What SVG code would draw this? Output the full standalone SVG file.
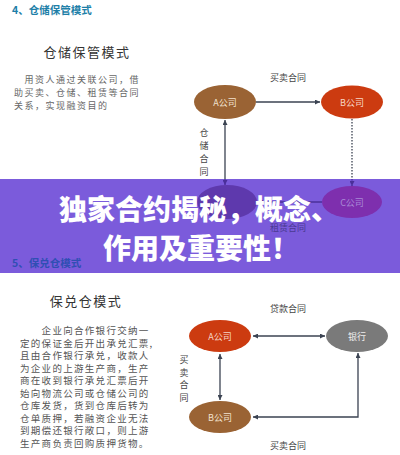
<svg xmlns="http://www.w3.org/2000/svg" width="400" height="455" viewBox="0 0 400 455">
<defs>
<marker id="arr" viewBox="0 0 6 6" refX="6" refY="3" markerWidth="5" markerHeight="5" orient="auto-start-reverse" markerUnits="userSpaceOnUse">
<path d="M0,0 L6,3 L0,6 z" fill="#3b4352"/>
</marker>
<marker id="arrp" viewBox="0 0 6 6" refX="6" refY="3" markerWidth="5" markerHeight="5" orient="auto-start-reverse" markerUnits="userSpaceOnUse">
<path d="M0,0 L6,3 L0,6 z" fill="#4a2f9a"/>
</marker>
<style>
text{font-family:"Noto Sans CJK SC","Noto Sans",sans-serif;}
.hdr{font-size:10.5px;font-weight:bold;}
.ttl{font-size:13px;fill:#333;letter-spacing:1.5px;text-anchor:middle;}
.para{font-size:9px;fill:#666;letter-spacing:1.5px;}
.para2{font-size:9.5px;fill:#555;letter-spacing:1.3px;}
.lbl{font-size:9px;fill:#444;text-anchor:middle;}
.nl{font-size:9px;text-anchor:middle;dominant-baseline:central;}
.ln{stroke:#3b4352;stroke-width:1.3;fill:none;}
.lnp{stroke:#4a2f9a;stroke-width:1.3;fill:none;}
.big{font-size:28px;font-weight:900;fill:#fff;text-anchor:middle;}
</style>
</defs>
<rect width="400" height="455" fill="#ffffff"/>

<!-- Section 4 -->
<text class="hdr" x="12" y="14" fill="#1e7fa8">4、仓储保管模式</text>
<text class="ttl" x="87" y="57">仓储保管模式</text>
<text class="para" x="24.5" y="83">用资人通过关联公司，借</text>
<text class="para" x="14" y="96">助买卖、仓储、租赁等合同</text>
<text class="para" x="14" y="109">关系，实现融资目的</text>

<g id="connectors-top">
<line class="ln" x1="256" y1="102" x2="320" y2="102" marker-end="url(#arr)"/>
<line class="ln" x1="225" y1="120" x2="225" y2="184" marker-start="url(#arr)"/>
<line class="ln" x1="352" y1="119" x2="352" y2="184" stroke-dasharray="1.5,1.5"/>
<text class="lbl" x="288" y="81">买卖合同</text>
<text class="lbl" x="204" y="136">仓</text>
<text class="lbl" x="204" y="149">储</text>
<text class="lbl" x="204" y="162">合</text>
<text class="lbl" x="204" y="175">同</text>
</g>
<g id="node-a-top">
<ellipse cx="225" cy="102" rx="31" ry="17" fill="#9a6334"/>
<text class="nl" x="225" y="102" fill="#f2e2cf">A公司</text>
</g>
<g id="node-b-top">
<ellipse cx="352" cy="102" rx="31" ry="16.5" fill="#cc3b10"/>
<text class="nl" x="352" y="102" fill="#f6d6c6">B公司</text>
</g>

<!-- Overlay band -->
<rect id="band" x="0" y="179" width="400" height="94" fill="#7b5bdb"/>

<g id="connectors-band">
<line class="lnp" x1="225" y1="179" x2="225" y2="185" marker-end="url(#arrp)"/>
<line class="lnp" x1="352" y1="179" x2="352" y2="186" stroke-dasharray="1.5,1.5" marker-end="url(#arrp)"/>
<line class="lnp" x1="322" y1="202" x2="258" y2="202" marker-end="url(#arrp)"/>
<text class="lbl" x="288" y="231" fill="#4a3a92" style="fill:#4a3a92">租赁合同</text>
</g>
<g id="node-d-top">
<ellipse cx="227" cy="202" rx="30" ry="17" fill="#5e39ad"/>
</g>
<g id="node-c-top">
<ellipse cx="352" cy="202" rx="30" ry="16" fill="#7e2fae"/>
<text class="nl" x="352" y="202" fill="#a888d6">C公司</text>
</g>
<text class="hdr" x="12" y="267" fill="#2f4fb3">5、保兑仓模式</text>

<text class="big" x="199" y="220">独家合约揭秘，概念、</text>
<text class="big" x="201" y="259">作用及重要性！</text>

<!-- Section 5 -->
<text class="ttl" x="86" y="306">保兑仓模式</text>
<g class="para2">
<text class="para2" x="41.6" y="334">企业向合作银行交纳一</text>
<text class="para2" x="20" y="346.5">定的保证金后开出承兑汇票,</text>
<text class="para2" x="20" y="359">且由合作银行承兑，收款人</text>
<text class="para2" x="20" y="371.5">为企业的上游生产商，生产</text>
<text class="para2" x="20" y="384">商在收到银行承兑汇票后开</text>
<text class="para2" x="20" y="396.5">始向物流公司或仓储公司的</text>
<text class="para2" x="20" y="409">仓库发货，货到仓库后转为</text>
<text class="para2" x="20" y="421.5">仓单质押，若融资企业无法</text>
<text class="para2" x="20" y="434">到期偿还银行敞口，则上游</text>
<text class="para2" x="20" y="446.5">生产商负责回购质押货物。</text>
</g>

<g id="connectors-bottom">
<line class="ln" x1="253" y1="336" x2="325" y2="336" marker-start="url(#arr)" marker-end="url(#arr)"/>
<line class="ln" x1="220" y1="354" x2="220" y2="400" marker-start="url(#arr)" marker-end="url(#arr)"/>
<polyline class="ln" points="358,353 358,417 253,417" marker-start="url(#arr)" marker-end="url(#arr)"/>
<text class="lbl" x="288" y="312">贷款合同</text>
<text class="lbl" x="288" y="449">买卖合同</text>
<text class="lbl" x="184" y="363">买</text>
<text class="lbl" x="184" y="375.5">卖</text>
<text class="lbl" x="184" y="388">合</text>
<text class="lbl" x="184" y="400.5">同</text>
</g>
<g id="node-a-bottom">
<ellipse cx="220" cy="336" rx="31" ry="16" fill="#cc3b10"/>
<text class="nl" x="220" y="336" fill="#f6d6c6">A公司</text>
</g>
<g id="node-bank">
<ellipse cx="357" cy="336" rx="31" ry="16" fill="#7a7a7a"/>
<text class="nl" x="357" y="336" fill="#eeeeee">银行</text>
</g>
<g id="node-b-bottom">
<ellipse cx="220" cy="417" rx="31" ry="16" fill="#9a6334"/>
<text class="nl" x="220" y="417" fill="#f2e2cf">B公司</text>
</g>
</svg>
